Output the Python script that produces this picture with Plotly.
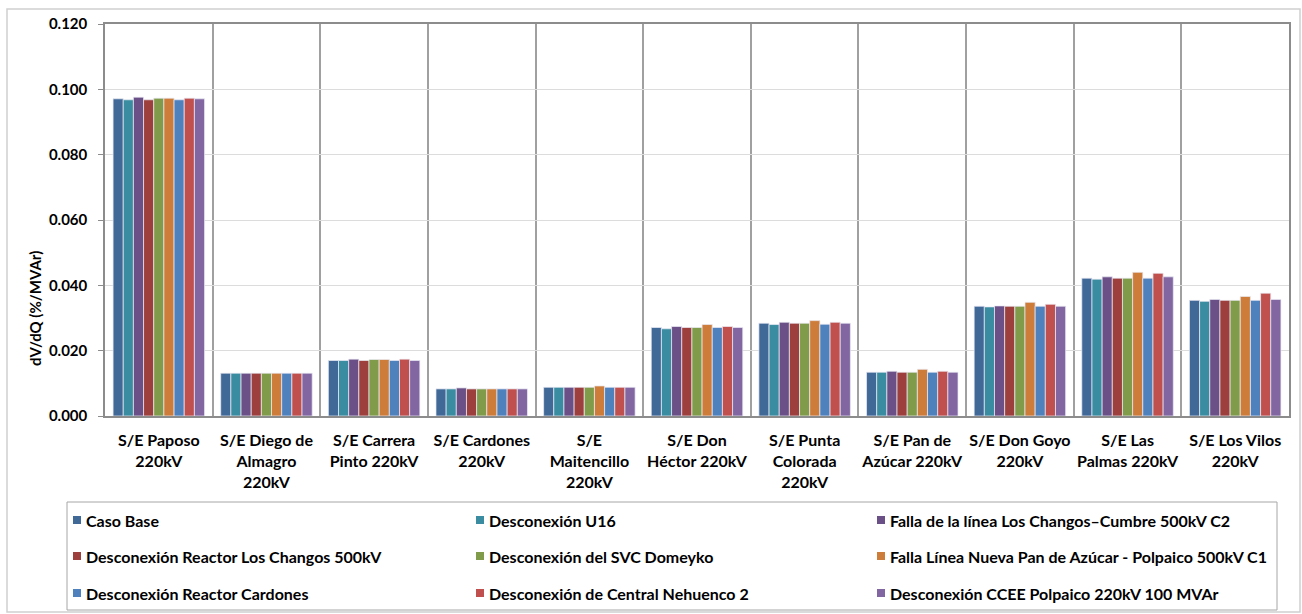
import plotly.graph_objects as go

categories = [
    "S/E Paposo<br>220kV", "S/E Diego de<br>Almagro<br>220kV", "S/E Carrera<br>Pinto 220kV",
    "S/E Cardones<br>220kV", "S/E<br>Maitencillo<br>220kV", "S/E Don<br>Héctor 220kV",
    "S/E Punta<br>Colorada<br>220kV", "S/E Pan de<br>Azúcar 220kV", "S/E Don Goyo<br>220kV",
    "S/E Las<br>Palmas 220kV", "S/E Los Vilos<br>220kV",
]

series_names = [
    "Caso Base",
    "Desconexión U16",
    "Falla de la línea Los Changos–Cumbre 500kV C2",
    "Desconexión Reactor Los Changos 500kV",
    "Desconexión del SVC Domeyko",
    "Falla Línea Nueva Pan de Azúcar - Polpaico 500kV C1",
    "Desconexión Reactor Cardones",
    "Desconexión de Central Nehuenco 2",
    "Desconexión CCEE Polpaico 220kV 100 MVAr",
]

caso_base      = [0.0971, 0.0131, 0.0170, 0.0083, 0.0088, 0.0271, 0.0284, 0.0134, 0.0336, 0.0422, 0.0354]
desc_u16       = [0.0968, 0.0131, 0.0170, 0.0083, 0.0088, 0.0267, 0.0280, 0.0134, 0.0334, 0.0419, 0.0351]
falla_changos  = [0.0976, 0.0131, 0.0174, 0.0086, 0.0088, 0.0274, 0.0287, 0.0137, 0.0337, 0.0426, 0.0357]
reactor_chang  = [0.0968, 0.0131, 0.0170, 0.0083, 0.0088, 0.0271, 0.0284, 0.0134, 0.0336, 0.0422, 0.0354]
svc_domeyko    = [0.0973, 0.0131, 0.0173, 0.0083, 0.0088, 0.0271, 0.0284, 0.0134, 0.0336, 0.0422, 0.0354]
falla_pan      = [0.0973, 0.0131, 0.0173, 0.0083, 0.0092, 0.0280, 0.0292, 0.0143, 0.0348, 0.0440, 0.0366]
reactor_card   = [0.0968, 0.0131, 0.0170, 0.0083, 0.0088, 0.0271, 0.0281, 0.0134, 0.0336, 0.0422, 0.0354]
nehuenco       = [0.0973, 0.0131, 0.0174, 0.0083, 0.0088, 0.0274, 0.0287, 0.0137, 0.0342, 0.0437, 0.0376]
ccee_polpaico  = [0.0971, 0.0131, 0.0170, 0.0083, 0.0088, 0.0271, 0.0284, 0.0134, 0.0336, 0.0426, 0.0357]

series_values = [caso_base, desc_u16, falla_changos, reactor_chang, svc_domeyko,
                 falla_pan, reactor_card, nehuenco, ccee_polpaico]

colors = ["#416998", "#3A8DA1", "#6A5087", "#9C3F3D", "#809C4A",
          "#CD7C3A", "#4F81BD", "#C0504D", "#8166A2"]

y_ticks = [0.0, 0.02, 0.04, 0.06, 0.08, 0.10, 0.12]
y_title = "dV/dQ (%/MVAr)"

FONT = "Lato"
W, H = 1302, 614
ML, MR, MT, MB = 105, 13, 24, 198
PW, PH = W - ML - MR, H - MT - MB

fig = go.Figure()
for name, vals, col in zip(series_names, series_values, colors):
    fig.add_trace(go.Bar(
        x=categories, y=vals, name=name, showlegend=False,
        marker=dict(color=col, line=dict(color="rgba(235,235,245,0.9)", width=0.8)),
    ))

def px_x(px):
    return (px - ML) / PW

def px_y(py):
    return 1 - (py - MT) / PH

shapes = []
annotations = []
# outer chart border
shapes.append(dict(type="rect", xref="paper", yref="paper",
                   x0=px_x(7), x1=px_x(1300), y0=px_y(612), y1=px_y(9),
                   line=dict(color="#d0d0d0", width=1.5), fillcolor="rgba(0,0,0,0)", layer="below"))
# legend box
shapes.append(dict(type="rect", xref="paper", yref="paper",
                   x0=px_x(67), x1=px_x(1277), y0=px_y(610), y1=px_y(502),
                   line=dict(color="#a6a6a6", width=1), fillcolor="rgba(0,0,0,0)"))
col_x = [73, 476, 877]
row_y = [520, 556, 593]
for i, (name, col) in enumerate(zip(series_names, colors)):
    r, c = divmod(i, 3)
    x0, yc = col_x[c], row_y[r]
    shapes.append(dict(type="rect", xref="paper", yref="paper",
                       x0=px_x(x0), x1=px_x(x0 + 8), y0=px_y(yc + 4), y1=px_y(yc - 4),
                       line=dict(width=0), fillcolor=col))
    annotations.append(dict(xref="paper", yref="paper", x=px_x(x0 + 11), y=px_y(yc),
                            text=name, showarrow=False, xanchor="left", yanchor="middle",
                            font=dict(family=FONT, size=16, color="#000000", weight="bold")))

# y-axis title (placed lower, as in the original)
annotations.append(dict(xref="paper", yref="paper", x=px_x(35), y=px_y(309),
                        text=y_title, showarrow=False, textangle=-90,
                        xanchor="center", yanchor="middle",
                        font=dict(family=FONT, size=15, color="#000000", weight="bold")))

fig.update_layout(
    width=W, height=H,
    margin=dict(l=ML, r=MR, t=MT, b=MB),
    paper_bgcolor="white", plot_bgcolor="white",
    barmode="group", bargap=0.15, bargroupgap=0,
    font=dict(family=FONT, size=14, color="#000000", weight="bold"),
    shapes=shapes, annotations=annotations,
    xaxis=dict(
        type="category", tickson="boundaries", showgrid=True, gridcolor="#a0a0a0", gridwidth=1.5,
        showline=True, linecolor="#8c8c8c", linewidth=1.5, mirror=True,
        ticks="", tickfont=dict(family=FONT, size=16, color="#000000", weight="bold"),
        tickangle=0, ticklabelstandoff=9,
    ),
    yaxis=dict(
        range=[0, 0.12], tickvals=y_ticks, tickformat=".3f",
        showgrid=True, gridcolor="#dcdcdc", gridwidth=1,
        showline=True, linecolor="#8c8c8c", linewidth=1.5, mirror=True,
        ticks="outside", ticklen=5, tickcolor="#8c8c8c",
        tickfont=dict(family=FONT, size=15, color="#000000", weight="bold"),
        ticklabelstandoff=8,
        zeroline=False,
    ),
)

fig.write_html("out.html", config={"displayModeBar": False},
               post_script="document.body.style.margin='0';")
